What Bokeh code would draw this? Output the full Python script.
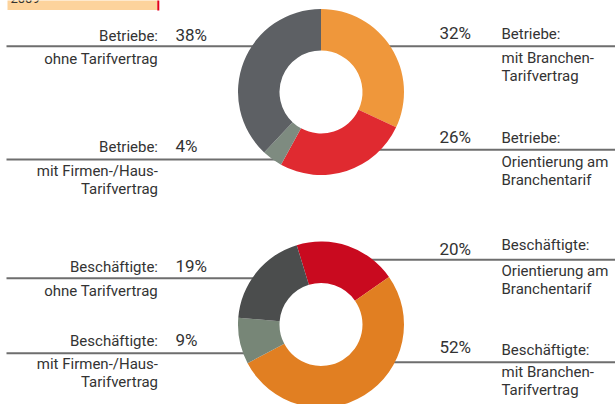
import numpy as np
from bokeh.plotting import figure
from bokeh.models import Range1d, ColumnDataSource
from bokeh.core.properties import value
from bokeh.embed import file_html
from bokeh.resources import INLINE

# ---------------- data ----------------
year_label = "2009"

top_title = "Betriebe:"
top_categories = ["mit Branchen-|Tarifvertrag", "Orientierung am|Branchentarif",
                  "mit Firmen-/Haus-|Tarifvertrag", "ohne Tarifvertrag"]
top_values = [32, 26, 4, 38]
top_colors = ["#EF973B", "#E02A30", "#7E8B80", "#5D6064"]

bottom_title = "Beschäftigte:"
bottom_categories = ["Orientierung am|Branchentarif", "mit Branchen-|Tarifvertrag",
                     "mit Firmen-/Haus-|Tarifvertrag", "ohne Tarifvertrag"]
bottom_values = [20, 52, 9, 19]
bottom_colors = ["#C90A1F", "#E17F22", "#778677", "#4B4D4D"]

# ---------------- layout (pixels, y downward) ----------------
FONT = value("Roboto")
TXT = "#333333"
LINE = "#6E6E6E"
LBL_SIZE, PCT_SIZE = 15, 17
SHIFT = 0.4  # baseline correction in em

# donut centres / radii / start angle (deg from 12 o'clock, clockwise positive)
donuts = [
    dict(values=top_values, colors=top_colors, cx=320.5, cy=91.5, start=0.0),
    dict(values=bottom_values, colors=bottom_colors, cx=320.5, cy=324.0, start=-17.0),
]
R_OUT, R_IN = 83.0, 41.5

# label placement: side, header baseline, pct baseline, line y, first sub baseline
top_layout = [
    ("right", 39.0, 39.0, 45.7, 63.0),
    ("right", 143.0, 143.0, 149.3, 167.0),
    ("left", 152.0, 152.0, 159.0, 176.0),
    ("left", 41.0, 41.0, 45.7, 64.0),
]
bottom_layout = [
    ("right", 250.5, 255.5, 259.3, 276.7),
    ("right", 355.0, 353.5, 361.7, 377.7),
    ("left", 346.0, 346.0, 352.7, 369.5),
    ("left", 272.0, 272.0, 277.7, 296.7),
]
SUB_STEP = 18.0
LEFT_TXT_X, LEFT_PCT_X = 157.5, 175.0
RIGHT_TXT_X, RIGHT_PCT_X = 501.0, 470.5
LEFT_LINE_X0, RIGHT_LINE_X1 = 6.0, 615.0

W, H = 615, 404
p = figure(width=W, height=H, output_backend="svg", toolbar_location=None,
           x_range=Range1d(0, W), y_range=Range1d(-H, 0),
           x_axis_type=None, y_axis_type=None, min_border=0)
p.grid.visible = False
p.outline_line_color = None
p.background_fill_color = "white"
p.border_fill_color = "white"

# year box at top (mostly clipped as in the reference)
p.quad(left=[7], right=[157], top=[20], bottom=[-9.5], fill_color="#FDD39C", line_color=None)
p.segment(x0=[157.8], y0=[20], x1=[157.8], y1=[-10], line_color="#E3001B", line_width=2)
p.text(x=[10], y=[-(3 - SHIFT * 13)], text=[year_label], text_font=FONT, text_font_size="13px",
       text_color=TXT, text_baseline="alphabetic")

def add_labels(title, cats, vals, layout, cx, cy):
    segs = dict(x0=[], y0=[], x1=[], y1=[])
    lt = dict(x=[], y=[], t=[])
    rt = dict(x=[], y=[], t=[])
    lp = dict(x=[], y=[], t=[])
    rp = dict(x=[], y=[], t=[])
    ls = SHIFT * LBL_SIZE
    ps = SHIFT * PCT_SIZE
    for cat, v, (side, hy, py, ly, sy) in zip(cats, vals, layout):
        subs = cat.split("|")
        # leader line stops just inside the outer ring (hidden under it)
        reach = np.sqrt(max(R_OUT ** 2 - (ly - cy) ** 2, 0.0)) - 4.0
        if side == "left":
            segs["x0"].append(LEFT_LINE_X0); segs["x1"].append(cx - reach)
            tx, px, tgt, pgt = LEFT_TXT_X, LEFT_PCT_X, lt, lp
        else:
            segs["x0"].append(cx + reach); segs["x1"].append(RIGHT_LINE_X1)
            tx, px, tgt, pgt = RIGHT_TXT_X, RIGHT_PCT_X, rt, rp
        tgt["x"].append(tx); tgt["y"].append(-(hy - ls)); tgt["t"].append(title)
        for i, s in enumerate(subs):
            tgt["x"].append(tx); tgt["y"].append(-(sy + i * SUB_STEP - ls)); tgt["t"].append(s)
        pgt["x"].append(px); pgt["y"].append(-(py - ps)); pgt["t"].append(f"{v}%")
        segs["y0"].append(-ly); segs["y1"].append(-ly)
    p.segment(source=ColumnDataSource(segs), x0="x0", y0="y0", x1="x1", y1="y1",
              line_color=LINE, line_width=2)
    for src, align, size in ((lt, "right", LBL_SIZE), (rt, "left", LBL_SIZE),
                             (lp, "left", PCT_SIZE), (rp, "right", PCT_SIZE)):
        p.text(source=ColumnDataSource(src), x="x", y="y", text="t", text_font=FONT,
               text_font_size=f"{size}px", text_color=TXT, text_align=align,
               text_baseline="alphabetic")

add_labels(top_title, top_categories, top_values, top_layout, donuts[0]["cx"], donuts[0]["cy"])
add_labels(bottom_title, bottom_categories, bottom_values, bottom_layout, donuts[1]["cx"], donuts[1]["cy"])

# donuts drawn on top of the leader lines
for d in donuts:
    vals = np.array(d["values"], dtype=float)
    frac = vals / vals.sum()
    cum = np.concatenate([[0.0], np.cumsum(frac)])
    start = np.deg2rad(90.0 - d["start"] - cum[:-1] * 360.0)
    end = np.deg2rad(90.0 - d["start"] - cum[1:] * 360.0)
    src = ColumnDataSource(dict(x=[d["cx"]] * len(vals), y=[-d["cy"]] * len(vals),
                                s=start, e=end, c=d["colors"]))
    p.annular_wedge(source=src, x="x", y="y", inner_radius=R_IN, outer_radius=R_OUT,
                    start_angle="s", end_angle="e", direction="clock",
                    fill_color="c", line_color=None)

open("out.html", "w").write(file_html(p, INLINE))
